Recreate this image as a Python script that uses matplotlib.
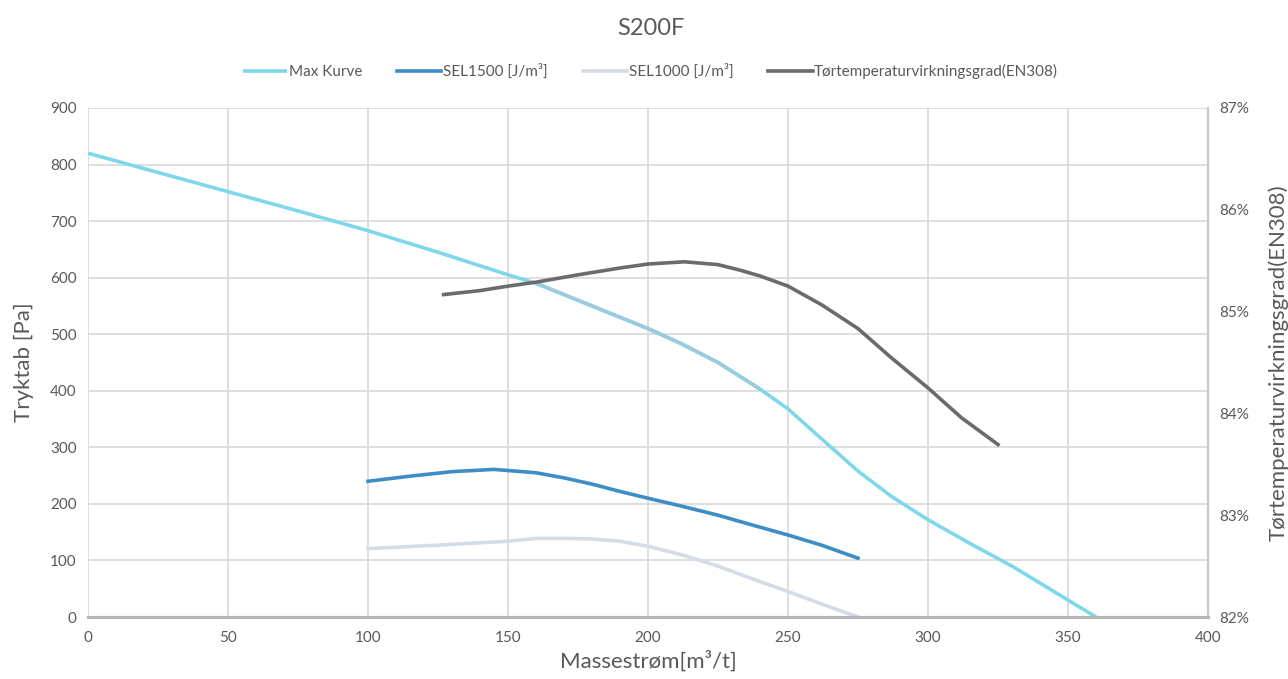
import matplotlib.pyplot as plt
from matplotlib.ticker import FuncFormatter

plt.rcParams['font.family'] = ['Lato', 'DejaVu Sans']

# Max Kurve
max_x = [0, 25, 50, 75, 100, 125, 150, 160, 175, 190, 200, 212, 225, 240, 250, 262, 275, 287, 300, 315, 330, 345, 360]
max_y = [820, 786, 752, 718, 683, 645, 605, 590, 560, 530, 510, 483, 450, 403, 368, 315, 258, 213, 172, 130, 90, 45, 0]

# SEL 1500
sel15_x = [100, 115, 130, 145, 160, 170, 180, 190, 200, 212, 225, 237, 250, 262, 275]
sel15_y = [240, 249, 257, 261, 255, 246, 235, 222, 210, 196, 180, 163, 145, 127, 104]

# SEL 1000
sel10_x = [100, 125, 150, 160, 170, 180, 190, 200, 212, 225, 237, 250, 262, 275]
sel10_y = [121, 127, 134, 139, 139, 138, 134, 125, 110, 90, 68, 45, 23, 0]

# Tørtemperaturvirkningsgrad (fraction)
eff_x = [127, 140, 150, 160, 175, 190, 200, 213, 225, 233, 240, 250, 262, 275, 287, 300, 312, 325]
eff_y = [0.85167, 0.85206, 0.85250, 0.85289, 0.85361, 0.85428, 0.85467, 0.85489, 0.85461, 0.85406,
         0.85350, 0.85250, 0.85067, 0.84833, 0.84544, 0.84250, 0.83956, 0.83694]

grey = '#595959'
fig = plt.figure(figsize=(12.88, 6.79), dpi=100)
ax = fig.add_axes([0.0683, 0.0913, 0.8696, 0.7497])
ax2 = ax.twinx()

l1, = ax.plot(max_x, max_y, color='#7fd8ea', lw=2.6, label='Max Kurve', solid_capstyle='butt')
# darker overlap segment on the max curve
seg = [i for i, x in enumerate(max_x) if 160 <= x <= 240]
ax.plot([max_x[i] for i in seg], [max_y[i] for i in seg], color='#9ccbe0', lw=2.6, solid_capstyle='butt')
l2, = ax.plot(sel15_x, sel15_y, color='#3d8dc6', lw=2.6, label='SEL1500 [J/m³]')
l3, = ax.plot(sel10_x, sel10_y, color='#d5dce6', lw=2.6, label='SEL1000 [J/m³]')
l4, = ax2.plot(eff_x, eff_y, color='#6b6b6b', lw=2.6, label='Tørtemperaturvirkningsgrad(EN308)')

ax.set_xlim(0, 400)
ax.set_ylim(0, 900)
ax.set_xticks(range(0, 401, 50))
ax.set_yticks(range(0, 901, 100))
ax2.set_ylim(0.82, 0.87)
ax2.set_yticks([0.82, 0.83, 0.84, 0.85, 0.86, 0.87])
ax2.yaxis.set_major_formatter(FuncFormatter(lambda v, p: '{:.0f}%'.format(v * 100)))

ax.grid(True, color='#d9d9d9', lw=1.2)
ax.set_axisbelow(True)
for a in (ax, ax2):
    for s in ('top', 'left'):
        a.spines[s].set_visible(False)
    a.spines['bottom'].set_color('#b5b5b5')
    a.spines['bottom'].set_linewidth(2.2)
    a.spines['right'].set_color('#c8c8c8')
    a.spines['right'].set_linewidth(1.5)
    a.tick_params(length=0, colors=grey, labelsize=11, pad=8)
ax.tick_params(axis='x', pad=10)

ax.set_xlabel('Massestrøm[m³/t]', fontsize=16, color=grey, labelpad=4)
ax.set_ylabel('Tryktab [Pa]', fontsize=16, color=grey, labelpad=12)
ax2.set_ylabel('Tørtemperaturvirkningsgrad(EN308)', fontsize=16, color=grey, labelpad=14)

fig.text(0.505, 0.958, 'S200F', ha='center', va='center', fontsize=17, color=grey)
fig.legend(handles=[l1, l2, l3, l4], loc='center', bbox_to_anchor=(0.505, 0.895), ncol=4,
           frameon=False, fontsize=11, labelcolor=grey, handlelength=2.9,
           handletextpad=0.1, columnspacing=2.3)

fig.savefig('out.png', dpi=100)
